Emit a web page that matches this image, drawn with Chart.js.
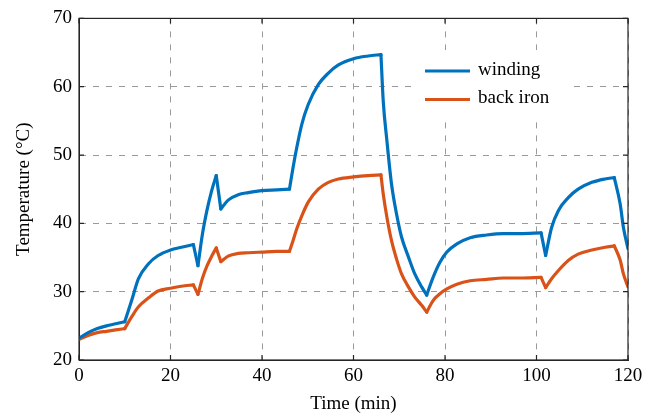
<!DOCTYPE html>
<html>
<head>
<meta charset="utf-8">
<script src="https://cdn.jsdelivr.net/npm/chart.js@4/dist/chart.umd.min.js"></script>
<style>
html,body{margin:0;padding:0;background:#fff;}
#wrap{width:660px;height:416px;}
</style>
</head>
<body>
<div id="wrap"><canvas id="c" width="660" height="416"></canvas></div>
<script>
const timeMin = [0, 2, 4, 6, 8, 10, 11.5, 13, 15.2, 17.3, 20, 22.4, 25, 26, 27, 28, 29, 30, 31, 32.6, 34.8, 37, 40, 43.2, 46, 46.8, 47.6, 48.7, 50.1, 52.3, 54.5, 56.7, 60, 63.2, 66, 66.5, 67.3, 68.3, 69.4, 70.5, 72, 73.4, 74.9, 76, 77.4, 78.9, 80.4, 82.6, 85.5, 89.1, 92.7, 96.4, 101, 102, 103.3, 104.8, 107, 109.1, 112.1, 115, 117, 118.3, 119, 120];
const winding = [23.2, 24.0, 24.6, 25.0, 25.3, 25.6, 28.7, 31.9, 34.1, 35.3, 36.1, 36.5, 36.9, 33.8, 38.5, 42.0, 44.8, 47.0, 42.1, 43.4, 44.2, 44.5, 44.8, 44.9, 45.0, 48.2, 51.1, 54.5, 57.4, 60.3, 62.0, 63.2, 64.1, 64.5, 64.7, 57.9, 52.1, 45.8, 41.4, 38.0, 35.1, 32.6, 30.7, 29.5, 32.1, 34.3, 35.8, 37.0, 37.9, 38.3, 38.5, 38.5, 38.6, 35.3, 39.4, 41.9, 43.8, 45.0, 46.0, 46.5, 46.7, 42.8, 39.4, 36.3];
const backIron = [23.0, 23.6, 24.0, 24.2, 24.4, 24.6, 26.3, 27.8, 29.1, 30.1, 30.5, 30.8, 31.0, 29.6, 32.0, 33.8, 35.2, 36.4, 34.4, 35.2, 35.6, 35.7, 35.8, 35.9, 35.9, 37.5, 39.2, 41.1, 43.1, 45.0, 46.0, 46.5, 46.8, 47.0, 47.1, 44.3, 40.9, 37.5, 34.8, 32.6, 30.7, 29.2, 28.0, 27.0, 28.7, 29.7, 30.4, 31.1, 31.6, 31.8, 32.0, 32.0, 32.1, 30.6, 31.9, 33.1, 34.6, 35.5, 36.1, 36.5, 36.7, 34.6, 32.6, 30.7];
// times (min) where the load changes: the curves have sharp corners there
const loadSteps = [10, 25, 26, 30, 31, 46, 66, 76, 101, 102, 117];
const seriesNames = ['winding', 'back iron'];
const seriesColors = ['#0072BD', '#D95319'];
const xTicks = [0, 20, 40, 60, 80, 100, 120];
const yTicks = [20, 30, 40, 50, 60, 70];

const FONT = "'Liberation Serif', 'Times New Roman', serif";

// split a series into smooth pieces between load steps (pieces share end points)
function pieces(ys, name, color) {
  const cuts = [0, ...loadSteps.map(t => timeMin.indexOf(t)), timeMin.length - 1];
  const out = [];
  for (let k = 0; k < cuts.length - 1; k++) {
    const pts = [];
    for (let i = cuts[k]; i <= cuts[k + 1]; i++) pts.push({x: timeMin[i], y: ys[i]});
    out.push({
      label: name, data: pts, borderColor: color, borderWidth: 3.2, pointRadius: 0,
      cubicInterpolationMode: 'monotone', fill: false, borderCapStyle: 'round',
      borderJoinStyle: 'round', legendEntry: k === 0
    });
  }
  return out;
}

const framePlugin = {
  id: 'frame',
  afterDatasetsDraw(chart) {
    const ctx = chart.ctx, a = chart.chartArea;
    const xs = chart.scales.x, ys = chart.scales.y;
    ctx.save();
    ctx.strokeStyle = '#262626';
    ctx.lineWidth = 1.2;
    ctx.setLineDash([]);
    ctx.strokeRect(a.left, a.top, a.right - a.left, a.bottom - a.top);
    const L = 5;
    ctx.beginPath();
    xTicks.forEach(v => {
      const px = xs.getPixelForValue(v);
      ctx.moveTo(px, a.bottom); ctx.lineTo(px, a.bottom - L);
      ctx.moveTo(px, a.top); ctx.lineTo(px, a.top + L);
    });
    yTicks.forEach(v => {
      const py = ys.getPixelForValue(v);
      ctx.moveTo(a.left, py); ctx.lineTo(a.left + L, py);
      ctx.moveTo(a.right, py); ctx.lineTo(a.right - L, py);
    });
    ctx.stroke();
    const bx = 413, by = 50, bw = 159, bh = 68;
    ctx.fillStyle = '#fff';
    ctx.fillRect(bx, by, bw, bh);
    chart.data.datasets.filter(ds => ds.legendEntry).forEach((ds, i) => {
      const y = 71 + i * 28.5;
      ctx.strokeStyle = ds.borderColor;
      ctx.lineWidth = 3.2;
      ctx.beginPath();
      ctx.moveTo(425, y); ctx.lineTo(470, y);
      ctx.stroke();
      ctx.fillStyle = '#000';
      ctx.font = '19px ' + FONT;
      ctx.textBaseline = 'middle';
      ctx.textAlign = 'left';
      ctx.fillText(ds.label, 478, y - 1);
    });
    ctx.restore();
  }
};

new Chart(document.getElementById('c'), {
  type: 'line',
  data: {
    datasets: [
      ...pieces(winding, seriesNames[0], seriesColors[0]),
      ...pieces(backIron, seriesNames[1], seriesColors[1])
    ]
  },
  options: {
    responsive: false,
    animation: false,
    devicePixelRatio: 1,
    layout: {padding: {left: 0, right: 32, top: 17, bottom: 0}},
    plugins: {legend: {display: false}, tooltip: {enabled: false}},
    scales: {
      x: {
        type: 'linear', min: 0, max: 120,
        afterFit(s) { s.height = 56; },
        afterBuildTicks(s) { s.ticks = xTicks.map(v => ({value: v})); },
        ticks: {font: {family: FONT, size: 19}, color: '#000', padding: 5, maxRotation: 0},
        grid: {color: '#9a9a9a', lineWidth: 1, drawTicks: false},
        border: {display: true, color: '#262626', dash: [6, 7]},
        title: {display: true, text: 'Time (min)', font: {family: FONT, size: 19}, color: '#000', padding: {top: 0, bottom: 1}}
      },
      y: {
        type: 'linear', min: 20, max: 70,
        afterFit(s) { s.width = 79; },
        afterBuildTicks(s) { s.ticks = yTicks.map(v => ({value: v})); },
        ticks: {font: {family: FONT, size: 19}, color: '#000', padding: 7},
        grid: {color: '#9a9a9a', lineWidth: 1, drawTicks: false},
        border: {display: true, color: '#262626', dash: [6, 7]},
        title: {display: true, text: 'Temperature (°C)', font: {family: FONT, size: 19}, color: '#000', padding: {top: 13, bottom: 0}}
      }
    }
  },
  plugins: [framePlugin]
});
</script>
</body>
</html>
